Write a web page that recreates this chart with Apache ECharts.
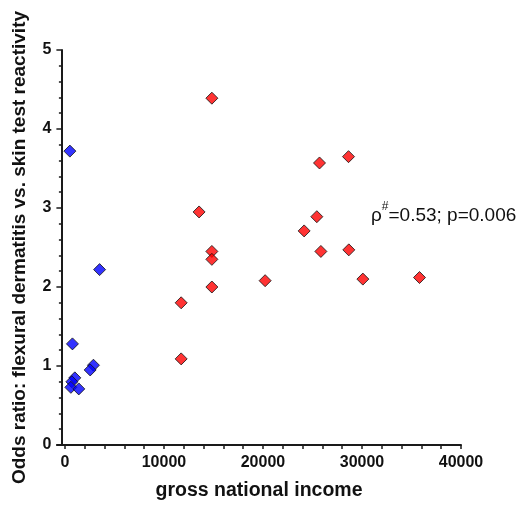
<!DOCTYPE html>
<html>
<head>
<meta charset="utf-8">
<style>
  html, body { margin: 0; padding: 0; background: #fff; }
  #chart { width: 522px; height: 506px; }
</style>
<script src="https://cdn.jsdelivr.net/npm/echarts@6/dist/echarts.min.js"></script>
</head>
<body>
<div id="chart"></div>
<script>
// Countries with lower income (blue) and higher income (red)
const lowIncomeGNI  = [500, 3500, 760, 2880, 2550, 1000, 700, 600, 1400];
const lowIncomeOR   = [3.72, 2.22, 1.28, 1.01, 0.95, 0.85, 0.80, 0.73, 0.71];
const highIncomeGNI = [11740, 11740, 13550, 14840, 14840, 14840, 14840, 20220,
                       24160, 25440, 25710, 25850, 28640, 28670, 30090, 35810];
const highIncomeOR  = [1.80, 1.09, 2.95, 4.39, 2.45, 2.35, 2.00, 2.08,
                       2.71, 2.89, 3.57, 2.45, 3.65, 2.47, 2.10, 2.12];

const xLabelValues = [0, 10000, 20000, 30000, 40000];
const xTickValues  = [0, 2000, 4000, 6000, 8000, 10000, 12000, 14000, 16000, 18000, 20000,
                      22000, 24000, 26000, 28000, 30000, 32000, 34000, 36000, 38000, 40000];

const pairs = (xs, ys) => xs.map((x, i) => [x, ys[i]]);

const axisColor = '#1a1a1a';
const fontFam = '"Liberation Sans", Arial, sans-serif';

const chart = echarts.init(document.getElementById('chart'), null, { renderer: 'canvas' });

chart.setOption({
  animation: false,
  backgroundColor: '#ffffff',
  grid: { left: 57, right: 61, top: 50, bottom: 56, containLabel: false },
  xAxis: {
    type: 'value',
    min: -800,
    max: 40000,
    name: 'gross national income',
    nameLocation: 'middle',
    nameGap: 36,
    nameTextStyle: { fontFamily: fontFam, fontWeight: 'bold', fontSize: 19.5, color: '#111' },
    axisLine: { show: true, onZero: false, lineStyle: { color: axisColor, width: 2 } },
    axisTick: { show: true, inside: false, length: 4, customValues: xTickValues,
                lineStyle: { color: axisColor, width: 1.5 } },
    axisLabel: { customValues: xLabelValues, margin: 10, fontFamily: fontFam,
                 fontWeight: 'bold', fontSize: 16, color: '#111',
                 formatter: v => String(v) },
    splitLine: { show: false }
  },
  yAxis: {
    type: 'value',
    min: 0,
    max: 5,
    interval: 1,
    offset: -4.4,
    name: 'Odds ratio: flexural dermatitis vs. skin test reactivity',
    nameLocation: 'middle',
    nameGap: 32,
    nameTextStyle: { fontFamily: fontFam, fontWeight: 'bold', fontSize: 19, color: '#111' },
    axisLine: { show: true, onZero: false, lineStyle: { color: axisColor, width: 2 } },
    axisTick: { show: true, inside: false, length: 5, lineStyle: { color: axisColor, width: 1.5 } },
    minorTick: { show: true, splitNumber: 5, length: 2.5, lineStyle: { color: axisColor, width: 1.5 } },
    axisLabel: { margin: 10, fontFamily: fontFam, fontWeight: 'bold', fontSize: 16, color: '#111' },
    splitLine: { show: false }
  },
  series: [
    {
      name: 'low income',
      type: 'scatter',
      symbol: 'diamond',
      symbolSize: 12,
      itemStyle: { color: '#0000ff', borderColor: '#111', borderWidth: 1 },
      data: pairs(lowIncomeGNI, lowIncomeOR)
    },
    {
      name: 'high income',
      type: 'scatter',
      symbol: 'diamond',
      symbolSize: 12,
      itemStyle: { color: '#ff0000', borderColor: '#111', borderWidth: 1 },
      data: pairs(highIncomeGNI, highIncomeOR)
    }
  ],
  graphic: [
    {
      type: 'text',
      left: 371,
      top: 201,
      style: {
        text: '{r|ρ}{s|#}{r|=0.53; p=0.006}',
        rich: {
          r: { fontFamily: fontFam, fontSize: 19, fill: '#111', verticalAlign: 'bottom', lineHeight: 24 },
          s: { fontFamily: fontFam, fontSize: 12, fill: '#111', verticalAlign: 'top', lineHeight: 24, padding: [0, 0, 9, 0] }
        }
      }
    }
  ]
});
</script>
</body>
</html>
